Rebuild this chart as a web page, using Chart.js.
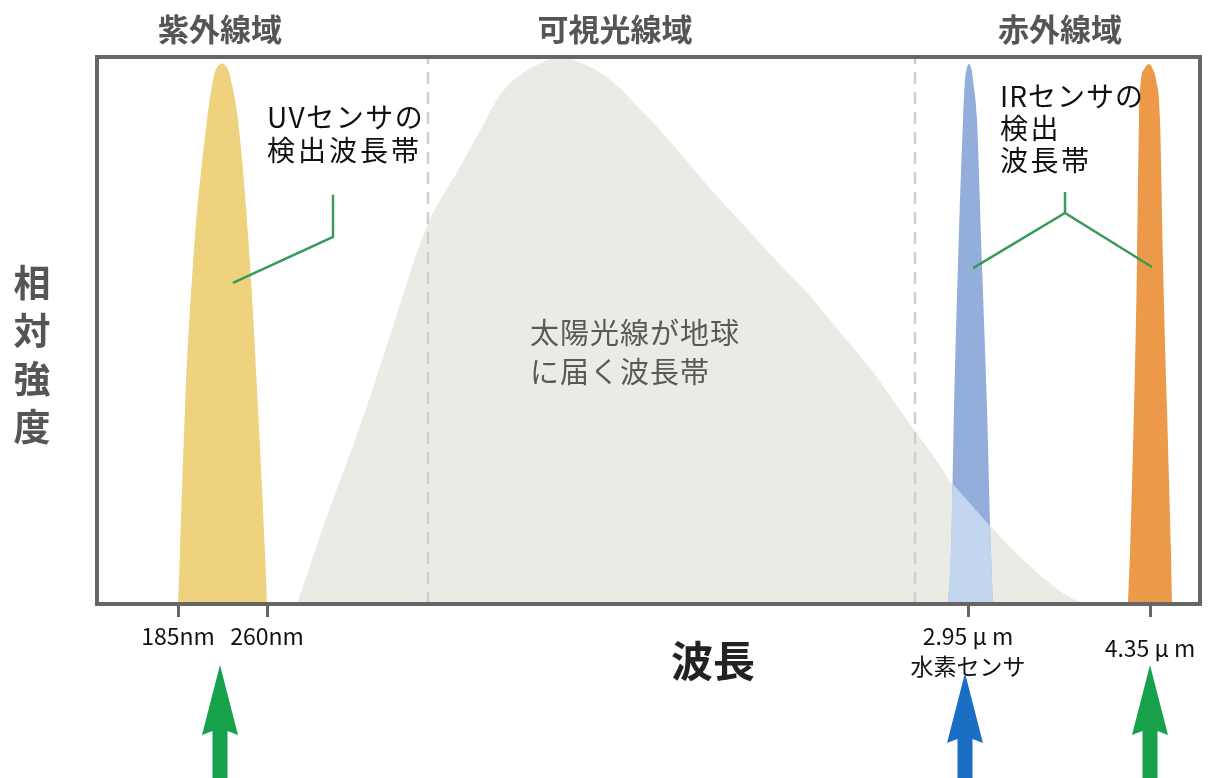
<!DOCTYPE html>
<html><head><meta charset="utf-8">
<script src="https://cdn.jsdelivr.net/npm/chart.js@4"></script>
<style>html,body{margin:0;padding:0;background:#fff}#wrap{width:1215px;height:778px;position:relative}</style>
</head><body><div id="wrap"><canvas id="c"></canvas></div>
<script>
// ---- data (x: position along the wavelength axis, y: relative intensity 0-100) ----
const regionLabels = ['紫外線域', '可視光線域', '赤外線域'];
const tickValues = [81, 170, 871, 1053];
const tickLabels = [['185nm'], ['260nm'], ['2.95 μ m', '水素センサ'], ['4.35 μ m']];

const sunX = [200, 230, 263, 293, 330, 363, 383, 406, 446, 463, 476, 510, 543, 576, 610, 643, 676, 710, 743, 776, 810, 843, 854, 895, 936, 970, 988];
const sunY = [0, 16.1, 32.5, 49.0, 69.1, 79.9, 86.5, 93.8, 99.1, 100, 99.5, 96.3, 90.5, 83.9, 76.6, 70.0, 63.4, 56.9, 49.7, 42.4, 33.6, 25.3, 22.1, 13.9, 6.4, 1.5, 0];

const uvX = [81, 83, 88, 96, 110, 116, 119, 125, 131, 134, 141, 153, 161, 168, 170];
const uvY = [0, 9.5, 35.8, 62.2, 88.5, 95.8, 97.7, 98.8, 97.7, 95.8, 88.5, 62.2, 35.8, 9.5, 0];

const h2X = [851, 854, 857, 861, 866, 868, 869.5, 872, 874.5, 876, 880, 885, 890, 894, 896];
const h2Y = [0, 9.5, 35.8, 62.2, 88.5, 95.8, 97.7, 98.7, 97.7, 95.8, 88.5, 62.2, 35.8, 9.5, 0];

const h2SunX = [851, 854, 855.5, 893.3, 894, 896];
const h2SunY = [0, 9.5, 22.0, 14.2, 9.5, 0];

const co2X = [1031, 1033, 1037, 1040, 1042, 1044, 1047, 1052, 1056, 1059, 1063, 1066, 1070, 1074, 1075];
const co2Y = [0, 9.5, 35.8, 62.2, 88.5, 95.8, 97.7, 98.7, 97.7, 95.8, 88.5, 62.2, 35.8, 9.5, 0];

const boundaryX = [331, 818];

const uvLeaderX = [236, 236, 136];
const uvLeaderY = [74.8, 67.1, 58.7];
const irStemX = [968, 968];
const irStemY = [75.3, 71.5];
const irLeaderX = [876, 968, 1055];
const irLeaderY = [61.4, 71.5, 61.6];

const arrowX = [123, 868, 1053];
const arrowColors = ['#17a14b', '#1a6fc4', '#17a14b'];

const zip = (xs, ys) => xs.map((x, i) => ({x, y: ys[i]}));
const FONT = '"Noto Sans CJK JP", "Noto Sans", sans-serif';

const area = (data, color, order, smooth) => ({
  data, backgroundColor: color, borderWidth: 0, pointRadius: 0, showLine: true,
  fill: 'origin', order, tension: 0, cubicInterpolationMode: smooth ? 'monotone' : 'default'
});
const line = (data, color, width, dash, order) => ({
  data, borderColor: color, borderWidth: width, borderDash: dash, pointRadius: 0,
  showLine: true, fill: false, order, tension: 0
});

const datasets = [
  area(zip(sunX, sunY), '#E9EBE4', 10, true),
  line(zip([boundaryX[0], boundaryX[0]], [0, 100]), '#cfcfcf', 2.5, [12, 8], 9),
  line(zip([boundaryX[1], boundaryX[1]], [0, 100]), '#cfcfcf', 2.5, [12, 8], 9),
  area(zip(uvX, uvY), '#EED27D', 8, true),
  area(zip(h2X, h2Y), '#93AEDA', 7, true),
  area(zip(co2X, co2Y), '#EC9A4A', 7, true),
  area(zip(h2SunX, h2SunY), '#C3D6EF', 6, false),
  line(zip(uvLeaderX, uvLeaderY), '#3a9a5c', 2.5, [], 5),
  line(zip(irStemX, irStemY), '#3a9a5c', 2.5, [], 5),
  line(zip(irLeaderX, irLeaderY), '#3a9a5c', 2.5, [], 5)
];

function txt(ctx, s, x, y, size, color, weight, align, spacing) {
  ctx.save();
  ctx.font = (weight || 'normal') + ' ' + size + 'px ' + FONT;
  ctx.fillStyle = color;
  ctx.textAlign = align || 'left';
  ctx.textBaseline = 'middle';
  if (spacing) ctx.letterSpacing = spacing + 'px';
  ctx.fillText(s, x, y);
  ctx.restore();
}

const decor = {
  id: 'decor',
  afterDatasetsDraw(chart) {
    const {ctx, chartArea: a} = chart;
    ctx.save();
    ctx.strokeStyle = '#666';
    ctx.lineWidth = 4;
    ctx.strokeRect(a.left, a.top, a.right - a.left, a.bottom - a.top);
    ctx.restore();
  },
  afterDraw(chart) {
    const {ctx} = chart;
    const xs = chart.scales.x;
    // region headings
    const headX = [220, 615, 1060];
    regionLabels.forEach((s, i) => txt(ctx, s, headX[i], 29, 31, '#555', 'bold', 'center'));
    // y title (vertical stacked)
    ['相', '対', '強', '度'].forEach((c, i) => txt(ctx, c, 32, 283 + i * 48, 37, '#555', 'bold', 'center'));
    // x title
    txt(ctx, '波長', 713, 661, 42, '#222', 'bold', 'center');
    // annotations
    txt(ctx, 'UVセンサの', 267, 117, 28, '#111', 'normal', 'left', 1.5);
    txt(ctx, '検出波長帯', 267, 150, 28, '#111', 'normal', 'left', 3);
    txt(ctx, 'IRセンサの', 1000, 96, 28, '#111', 'normal', 'left', 1);
    txt(ctx, '検出', 1000, 128, 28, '#111', 'normal', 'left', 2.5);
    txt(ctx, '波長帯', 1000, 160, 28, '#111', 'normal', 'left', 2.5);
    txt(ctx, '太陽光線が地球', 530, 333, 29, '#595959', 'normal', 'left', 1);
    txt(ctx, 'に届く波長帯', 530, 372, 29, '#595959', 'normal', 'left', 1);
    // arrows
    const tips = [665, 673, 665];
    arrowX.forEach((v, i) => {
      const cx = xs.getPixelForValue(v);
      const tip = tips[i], base = tip + 70, hw = 18, sw = 7.5;
      ctx.save();
      ctx.fillStyle = arrowColors[i];
      ctx.beginPath();
      ctx.moveTo(cx, tip);
      ctx.lineTo(cx + hw, base);
      ctx.lineTo(cx + sw, base - 4);
      ctx.lineTo(cx + sw, 778);
      ctx.lineTo(cx - sw, 778);
      ctx.lineTo(cx - sw, base - 4);
      ctx.lineTo(cx - hw, base);
      ctx.closePath();
      ctx.fill();
      ctx.restore();
    });
  }
};

new Chart(document.getElementById('c'), {
  type: 'scatter',
  data: {datasets},
  options: {
    responsive: true, maintainAspectRatio: false, animation: false,
    layout: {padding: {top: 57, left: 97, right: 15, bottom: 0}},
    plugins: {legend: {display: false}, tooltip: {enabled: false}},
    scales: {
      x: {
        type: 'linear', min: 0, max: 1103,
        afterFit: (s) => { s.height = 174; },
        afterBuildTicks: (s) => { s.ticks = tickValues.map(v => ({value: v})); },
        border: {display: false},
        grid: {display: true, drawOnChartArea: false, drawTicks: true, tickLength: 13, tickWidth: 3, tickColor: '#666'},
        ticks: {
          autoSkip: false, maxRotation: 0, padding: 4, color: '#111',
          font: (c) => ({family: FONT, size: 23, lineHeight: c.index === 3 ? 2.35 : 1.3}),
          callback: (v, i) => tickLabels[i]
        }
      },
      y: {type: 'linear', min: 0, max: 100, display: false}
    }
  },
  plugins: [decor]
});
</script></body></html>
